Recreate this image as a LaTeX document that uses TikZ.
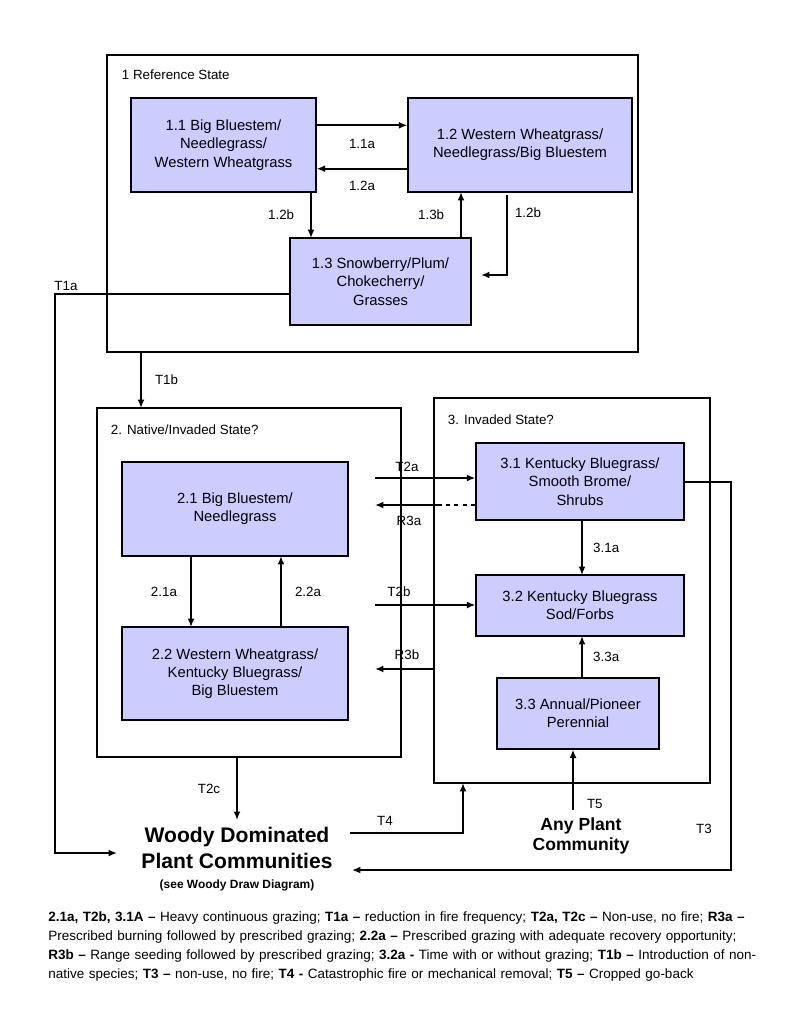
\documentclass[tikz,border=0pt]{standalone}
\usepackage{fontspec}
\setmainfont{Liberation Sans}
\usetikzlibrary{arrows.meta}
\definecolor{boxfill}{RGB}{204,204,255}
\tikzset{
	every community/.style={
		rectangle,
		draw,
		line width=1pt,
		fill=boxfill,
		align=center,
		font=\fontsize{10.5}{13}\selectfont
	},
	state box/.style={
		draw,
		line width=2pt
	},
	path label/.style={
		font=\fontsize{9.5}{11}\selectfont
	},
	link/.style={
		->,
		line width=1.3pt
	},
}
\begin{document}
\begin{tikzpicture}[x=0.025cm, y=-0.025cm, >={Latex[length=6pt,width=5pt]}]
\useasboundingbox (0,0) rectangle (800,1035);

% states
\draw [state box] (107,55) rectangle (638,352);
\draw [state box] (97,408) rectangle (401,757);
\draw [state box] (434,398) rectangle (710,783);
\node [path label, anchor=west] (s1) at (117,75) {1 Reference State};
\node [path label, anchor=west] (s2) at (106,430) {2. Native/Invaded State?};
\node [path label, anchor=west] (s3) at (443,420) {3. Invaded State?};
\coordinate (s2-top) at (141,408);
\coordinate (s3-bot) at (463,783);

% communities
\node [every community, minimum width=185*0.025cm, minimum height=94*0.025cm] (c11) at (223.5,145) {1.1 Big Bluestem/\\Needlegrass/\\Western Wheatgrass};
\node [every community, minimum width=224*0.025cm, minimum height=94*0.025cm] (c12) at (520,145) {1.2 Western Wheatgrass/\\Needlegrass/Big Bluestem};
\node [every community, minimum width=181*0.025cm, minimum height=87*0.025cm] (c13) at (380.5,281.5) {1.3 Snowberry/Plum/\\Chokecherry/\\Grasses};
\node [every community, minimum width=226*0.025cm, minimum height=94*0.025cm] (c21) at (235,509) {2.1 Big Bluestem/\\Needlegrass};
\node [every community, minimum width=226*0.025cm, minimum height=93*0.025cm] (c22) at (235,673.5) {2.2 Western Wheatgrass/\\Kentucky Bluegrass/\\Big Bluestem};
\node [every community, minimum width=208*0.025cm, minimum height=77*0.025cm] (c31) at (580,481.5) {3.1 Kentucky Bluegrass/\\Smooth Brome/\\Shrubs};
\node [every community, minimum width=208*0.025cm, minimum height=61*0.025cm] (c32) at (580,605.5) {3.2 Kentucky Bluegrass\\Sod/Forbs};
\node [every community, minimum width=162*0.025cm, minimum height=71*0.025cm] (c33) at (578,713.5) {3.3 Annual/Pioneer\\Perennial};

\node [font=\bfseries\fontsize{15}{18}\selectfont, align=center] (woody) at (237,848) {Woody Dominated\\Plant Communities};
\node [font=\bfseries\fontsize{8.5}{9}\selectfont] (woody-note) at (237,885) {(see Woody Draw Diagram)};
\node [font=\bfseries\fontsize{12.5}{14.5}\selectfont, align=center] (any) at (581,836) {Any Plant\\Community};

% reference state pathways
\draw [link] ([yshift=-28*0.025cm]c11.north east) -- ([yshift=-28*0.025cm]c12.north west)
	node [path label, midway, below=6pt] {1.1a};
\draw [link] ([yshift=24*0.025cm]c12.south west) -- ([yshift=24*0.025cm]c11.south east)
	node [path label, midway, below=5pt] {1.2a};
\draw [link] (311,192) -- (311,238) node [path label, midway, left=8pt] {1.2b};
\draw [link] (461,238) -- (461,192) node [path label, midway, left=8pt] {1.3b};
\draw [link] (507,195) -- (507,275) -- (481,275);
\node [path label] (l12b) at (528,213) {1.2b};

% native/invaded pathways
\draw [link] (191,556) -- (191,627) node [path label, midway, left=6pt] {2.1a};
\draw [link] (281,627) -- (281,556) node [path label, midway, right=6pt] {2.2a};

% invaded pathways
\draw [link] (582,520) -- (582,575) node [path label, midway, right=4pt] {3.1a};
\draw [link] (582,678) -- (582,636) node [path label, midway, right=4pt] {3.3a};

% transitions
\draw [link] (c13.west |- 0,294) -- (55,294) -- (55,853) -- (117,853);
\node [path label] (lt1a) at (66,286) {T1a};
\draw [link] (141,352) -- (s2-top) node [path label, midway, right=6pt] {T1b};
\draw [link] (375,478) -- (c31.west |- 0,478);
\node [path label] (lt2a) at (407,467) {T2a};
\draw [line width=1.3pt, dashed] (c31.west |- 0,505) -- (440,505);
\draw [link] (440,505) -- (375,505);
\node [path label] (lr3a) at (409,521) {R3a};
\draw [link] (375,605) -- (c32.west |- 0,605);
\node [path label] (lt2b) at (399,592) {T2b};
\draw [link] (434,669) -- (375,669);
\node [path label] (lr3b) at (407,655) {R3b};
\draw [link] (237,757) -- (237,820) node [path label, midway, left=8pt] {T2c};
\draw [link] (350,833) -- (463,833) -- (s3-bot);
\node [path label] (lt4) at (385,821) {T4};
\draw [link] (573,810) -- (c33.south -| 573,0) node [path label, pos=0.1, right=6pt] {T5};
\draw [link] (c31.east |- 0,482) -- (731,482) -- (731,870) -- (352,870);
\node [path label] (lt3) at (704,829) {T3};

% legend
\node [anchor=north west, text width=715*0.025cm, align=left, font=\fontsize{9.6}{13.6}\selectfont, inner sep=0pt] (legend) at (48,911)
{\textbf{2.1a, T2b, 3.1A –} Heavy continuous grazing; \textbf{T1a –} reduction in fire frequency; \textbf{T2a, T2c –} Non-use, no fire; \textbf{R3a –} Prescribed burning followed by prescribed grazing; \textbf{2.2a –} Prescribed grazing with adequate recovery opportunity; \textbf{R3b –} Range seeding followed by prescribed grazing; \textbf{3.2a -} Time with or without grazing; \textbf{T1b –} Introduction of non-native species; \textbf{T3 –} non-use, no fire; \textbf{T4 -} Catastrophic fire or mechanical removal; \textbf{T5 –} Cropped go-back};

\end{tikzpicture}
\end{document}
